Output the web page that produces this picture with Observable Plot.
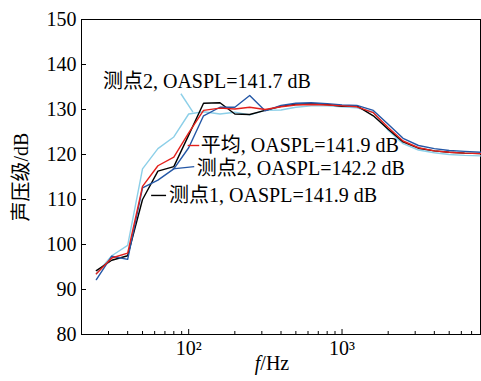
<!DOCTYPE html>
<html><head><meta charset="utf-8">
<script src="https://cdn.jsdelivr.net/npm/d3@7"></script>
<script src="https://cdn.jsdelivr.net/npm/@observablehq/plot@0.6"></script>
<style>body{margin:0;background:#fff}</style>
</head><body><div id="chart"></div>
<script>
// 1/3-octave band centre frequencies (Hz)
const freqs = [25, 31.5, 40, 50, 63, 80, 100, 125, 160, 200, 250, 315, 400, 500, 630, 800, 1000, 1250, 1600, 2000, 2500, 3150, 4000, 5000, 6300, 8000];
// 测点2, OASPL=141.7 dB (light blue)
const splP2b = [93.5, 97.5, 99.8, 116.8, 121.3, 123.9, 129.0, 129.5, 129.0, 129.4, 128.8, 129.8, 129.9, 130.5, 130.8, 130.8, 130.6, 130.4, 129.4, 125.4, 122.4, 121.0, 120.4, 120.0, 119.8, 119.7];
// 测点1, OASPL=141.9 dB (black)
const splP1 = [94.2, 96.5, 97.5, 110.0, 116.3, 117.3, 124.3, 131.4, 131.5, 129.0, 128.9, 129.8, 130.7, 131.2, 131.3, 131.1, 130.7, 130.8, 128.6, 125.6, 122.8, 121.4, 120.8, 120.5, 120.3, 120.2];
// 测点2, OASPL=142.2 dB (blue)
const splP2a = [92.2, 97.4, 96.7, 112.6, 114.3, 116.8, 121.5, 128.6, 130.5, 130.5, 133.1, 129.7, 130.9, 131.4, 131.5, 131.3, 131.0, 130.9, 129.8, 126.7, 123.6, 122.0, 121.3, 120.9, 120.7, 120.5];
// 平均, OASPL=141.9 dB (red)
const splAvg = [93.5, 97.0, 98.1, 112.9, 117.5, 119.4, 124.8, 129.8, 130.3, 130.1, 130.5, 130.0, 130.6, 131.0, 131.1, 131.0, 130.8, 130.6, 129.3, 126.0, 123.0, 121.5, 120.8, 120.5, 120.3, 120.2];

const seriesNames = ["测点2, OASPL=141.7 dB", "测点1, OASPL=141.9 dB", "测点2, OASPL=142.2 dB", "平均, OASPL=141.9 dB"];
const seriesColors = ["#8ccfe8", "#000000", "#2457a6", "#e3201b"];
const seriesValues = [splP2b, splP1, splP2a, splAvg];

const yTicks = [80, 90, 100, 110, 120, 130, 140, 150];
const xMajorTicks = [100, 1000];
const xMajorLabels = ["10²", "10³"];
const xMinorTicks = [30, 40, 50, 60, 70, 80, 90, 200, 300, 400, 500, 600, 700, 800, 900, 2000, 3000, 4000, 5000, 6000, 7000];

// annotation anchors (data space)
const labelText = ["测点2, OASPL=141.7 dB", "平均, OASPL=141.9 dB", "测点2, OASPL=142.2 dB", "测点1, OASPL=141.9 dB"];
const labelF = [27.6, 120, 113, 74.5];
const labelV = [136.1, 122.0, 116.9, 110.9];
const leaderColor = ["#8ccfe8", "#e3201b", "#2457a6", "#000000"];
const leaderF1 = [89, 98.5, 78.7, 56.9];
const leaderV1 = [133.5, 122.0, 116.8, 110.9];
const leaderF2 = [106.6, 117.2, 108.7, 71.2];
const leaderV2 = [129.4, 122.0, 117.3, 110.9];

const rows = seriesNames.flatMap((name, i) => freqs.map((f, j) => ({series: name, f, v: seriesValues[i][j]})));
const labels = labelText.map((t, i) => ({t, f: labelF[i], v: labelV[i]}));
const leaders = leaderColor.map((c, i) => ({c, f1: leaderF1[i], v1: leaderV1[i], f2: leaderF2[i], v2: leaderV2[i]}));

const plot = Plot.plot({
  width: 481,
  height: 381,
  marginLeft: 81,
  marginRight: 1,
  marginTop: 19,
  marginBottom: 47,
  style: {fontFamily: '"Liberation Serif","Times New Roman","Noto Sans CJK SC",serif', fontSize: "20px", background: "#fff", color: "#000", overflow: "visible"},
  x: {type: "log", domain: [20, 8000]},
  y: {domain: [80, 150]},
  color: {domain: seriesNames, range: seriesColors},
  marks: [
    Plot.frame({stroke: "#000", strokeWidth: 1}),
    Plot.axisY(yTicks, {tickSize: 0, tickPadding: 5, fontSize: 20, label: "声压级/dB", labelAnchor: "center", labelArrow: "none", labelOffset: 68}),
    Plot.axisY(yTicks, {tickSize: 5, dx: 5, tickFormat: () => "", label: null}),
    Plot.axisX(xMajorTicks, {tickSize: 0, tickPadding: 6, fontSize: 20, tickFormat: (d) => xMajorLabels[xMajorTicks.indexOf(d)], label: null}),
    Plot.axisX(xMajorTicks, {tickSize: 5, dy: -5, tickFormat: () => "", label: null}),
    Plot.axisX(xMinorTicks, {tickSize: 3, dy: -3, tickFormat: () => "", label: null}),
    Plot.text(["f/Hz"], {frameAnchor: "bottom", dx: -9, dy: 29, fontSize: 20, lineAnchor: "middle"}),
    Plot.line(rows, {x: "f", y: "v", z: "series", stroke: "series", strokeWidth: 1.4}),
    Plot.link(leaders, {x1: "f1", y1: "v1", x2: "f2", y2: "v2", stroke: "c", strokeWidth: 1.4}),
    Plot.text(labels, {x: "f", y: "v", text: "t", textAnchor: "start", lineAnchor: "middle", fontSize: 20, fill: "#000"})
  ]
});
document.getElementById("chart").appendChild(plot);
// italic f in the x-axis title
d3.select(plot).selectAll("text").filter(function(){ return this.textContent === "f/Hz"; }).each(function(){
  const t = d3.select(this);
  t.text("");
  t.append("tspan").attr("font-style", "italic").text("f");
  t.append("tspan").text("/Hz");
});
</script>
</body></html>
